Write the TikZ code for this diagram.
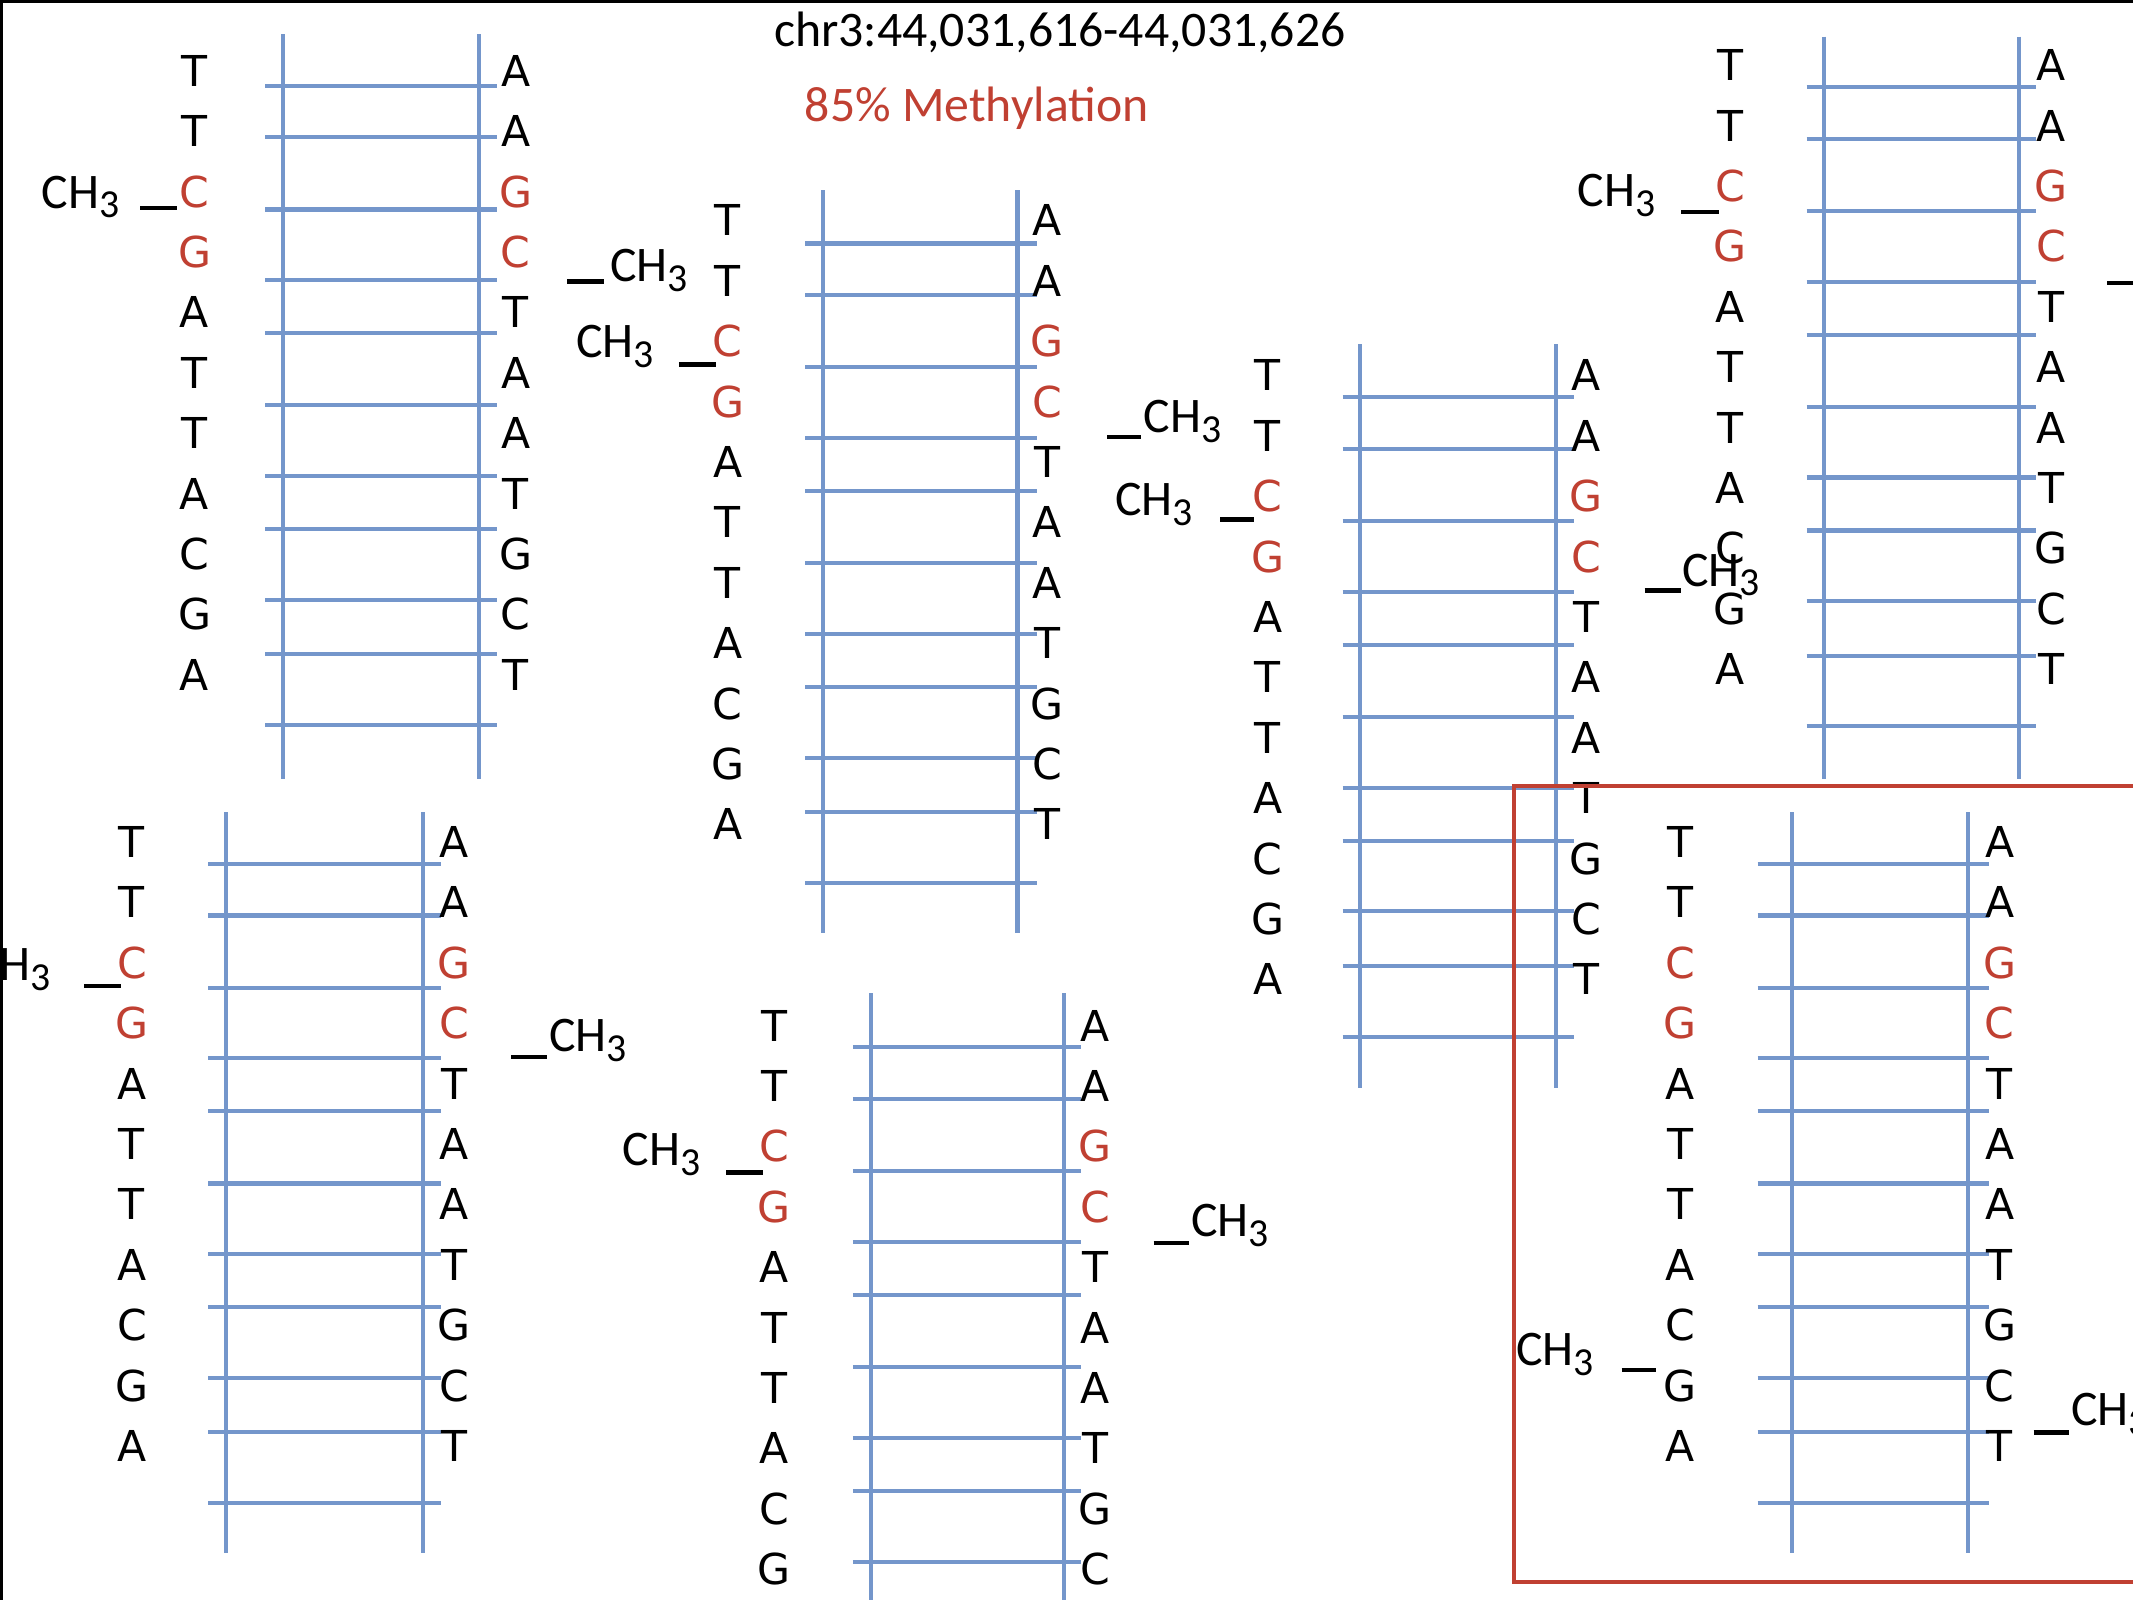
\documentclass[tikz,border=0pt]{standalone}
\usepackage{fontspec}
\setmainfont{Carlito}
\newfontfamily\basefont{DejaVu Sans}
\usetikzlibrary{positioning}
\definecolor{LadderBlue}{RGB}{116, 150, 203}
\definecolor{MethRed}{RGB}{192, 64, 50}
\newcommand{\chthree}{CH\raisebox{-2pt}{\fontsize{8.3}{9}\selectfont 3}}

\begin{document}
\begin{tikzpicture}[x=0.01cm, y=-0.01cm,
  strand/.style={LadderBlue, line width=0.85pt},
  rung/.style={LadderBlue, line width=0.85pt},
  nuc/.style={font=\basefont\fontsize{8.9}{10}\selectfont, inner sep=0pt, anchor=center},
  methyl/.style={font=\fontsize{10.4}{12}\selectfont, inner sep=0pt, anchor=base west},
  bond/.style={black, line width=0.9pt},
  head/.style={font=\fontsize{10.4}{12}\selectfont, inner sep=0pt, anchor=base},
  frame/.style={draw=MethRed, line width=0.75pt}]
\useasboundingbox (0,0) rectangle (1568,1176);
\clip (0,0) rectangle (1568,1176);
\draw[line width=0.02cm] (1,1176) -- (1,1) -- (1568,1);
% title
\node[head] (locus) at (779,34) {chr3:44,031,616-44,031,626};
\node[head, text=MethRed] (pct) at (718,89) {85\% Methylation};
% ladders: name / left bases x / first base y / strands x / right bases x / strand ends / rung ends / first rung y / bases shown
\foreach \lad/\xl/\yo/\va/\vb/\xr/\yt/\yb/\ra/\rb/\ry/\nb in {
  a/143/52/208/352/379/25/573/195/365/63/11,
  b/535/162/605/748/770/140/686/592/762/179/11,
  c/932/276/1000/1144/1166/253/800/987/1157/292/11,
  d/1272/48/1341/1484/1508/27/573/1328/1497/64/11,
  e/97/619/166/311/334/597/1142/153/324/635/11,
  f/569/754/640/782/805/730/1180/627/795/770/10,
  g/1235/619/1317/1447/1470/597/1142/1292/1462/635/11}
{
  \draw[strand] (\va,\yt) -- (\va,\yb);
  \draw[strand] (\vb,\yt) -- (\vb,\yb);
  \foreach \o in {0,38,91,143,182,235,287,326,378,418,470}
    \draw[rung] (\ra,{\ry+\o}) -- (\rb,{\ry+\o});
  \foreach \i/\bl/\br/\cl in {1/T/A/black, 2/T/A/black, 3/C/G/MethRed, 4/G/C/MethRed, 5/A/T/black, 6/T/A/black, 7/T/A/black, 8/A/T/black, 9/C/G/black, 10/G/C/black, 11/A/T/black}
  {
    \ifnum\i>\nb\else
      \node[nuc, text=\cl] (\lad l\i) at (\xl,{\yo+44.4*(\i-1)}) {\bl};
      \node[nuc, text=\cl] (\lad r\i) at (\xr,{\yo+44.4*(\i-1)}) {\br};
    \fi
  }
}
% methyl groups
\node[methyl] (ma1) at (30,153) {\chthree};
\draw[bond] (103,153) -- (130,153);
\node[methyl] (ma2) at (448,207) {\chthree};
\draw[bond] (417,207) -- (444,207);
\node[methyl] (mb1) at (423,263) {\chthree};
\draw[bond] (499,268) -- (526,268);
\node[methyl] (mb2) at (840,318) {\chthree};
\draw[bond] (814,321) -- (839,321);
\node[methyl] (mc1) at (819,379) {\chthree};
\draw[bond] (897,382) -- (922,382);
\node[methyl] (mc2) at (1236,431) {\chthree};
\draw[bond] (1209,434) -- (1236,434);
\node[methyl] (md1) at (1159,152) {\chthree};
\draw[bond] (1236,156) -- (1264,156);
\draw[bond] (1549,208) -- (1575,208);
\node[methyl, anchor=base east] (me1) at (38,721) {\chthree};
\draw[bond] (62,725) -- (89,725);
\node[methyl] (me2) at (403,773) {\chthree};
\draw[bond] (376,777) -- (402,777);
\node[methyl] (mf1) at (457,857) {\chthree};
\draw[bond] (534,862) -- (561,862);
\node[methyl] (mf2) at (875,909) {\chthree};
\draw[bond] (848,914) -- (874,914);
\node[methyl] (mg1) at (1114,1004) {\chthree};
\draw[bond] (1192,1007) -- (1217,1007);
\node[methyl] (mg2) at (1522,1048) {\chthree};
\draw[bond] (1495,1053) -- (1521,1053);
% highlighted ladder
\draw[frame] (1580,578) -- (1113,578) -- (1113,1163) -- (1580,1163);
\end{tikzpicture}
\end{document}
